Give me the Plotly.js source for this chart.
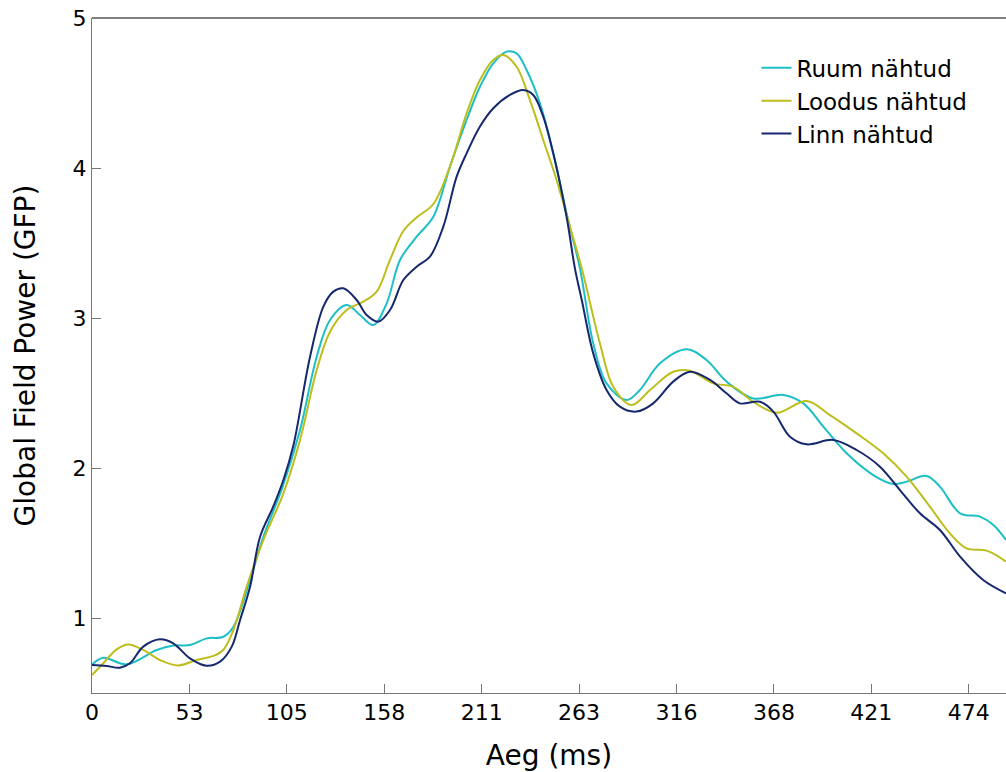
<!DOCTYPE html>
<html>
<head>
<meta charset="utf-8">
<script src="https://cdn.plot.ly/plotly-3.0.1.min.js"></script>
<style>html,body{margin:0;padding:0;background:#fff;}#chart{width:1006px;height:772px;}</style>
</head>
<body>
<div id="chart"></div>
<script>
// Time (ms) and GFP values
const ruumT = [0, 6.1, 18.7, 35, 44, 53, 62, 71, 76.4, 85.4, 92.6, 103, 112.4, 121.4, 128.6, 137.6, 144.8, 152, 159.2, 166.4, 175.4, 184.4, 193.4, 202.4, 209.6, 216.8, 224, 229.4, 234.8, 242, 249.2, 256.4, 263.6, 270.8, 278, 288.8, 296, 306.9, 321.3, 332, 342.8, 357.2, 373.5, 384.3, 395.1, 407.7, 422.1, 432.9, 440.1, 450.9, 458.1, 469, 479.8, 487, 493.8];
const ruumY = [0.69, 0.735, 0.691, 0.787, 0.816, 0.82, 0.864, 0.875, 0.942, 1.253, 1.542, 1.875, 2.253, 2.742, 2.987, 3.087, 3.02, 2.953, 3.098, 3.387, 3.542, 3.675, 4.009, 4.32, 4.542, 4.698, 4.776, 4.764, 4.653, 4.431, 4.098, 3.698, 3.331, 2.831, 2.564, 2.453, 2.52, 2.698, 2.791, 2.72, 2.576, 2.464, 2.487, 2.431, 2.276, 2.098, 1.953, 1.893, 1.909, 1.947, 1.876, 1.698, 1.676, 1.62, 1.52];

const loodusT = [0, 6.1, 13.3, 19.6, 27.7, 36.7, 46.6, 56.5, 65.5, 70.9, 76.4, 83.6, 92.6, 103.4, 112.4, 121.4, 128.6, 137.6, 146.6, 153.8, 161, 168.2, 175.4, 184.4, 193.4, 202.4, 209.6, 216.8, 222.2, 229.4, 236.6, 243.8, 251, 258.2, 264.6, 274.4, 281.6, 291.5, 301.5, 314, 323, 335.6, 346.4, 357.2, 369.9, 386.1, 398.7, 413.1, 427.5, 440.1, 452.7, 463.5, 472.5, 483.4, 493.8];
const loodusY = [0.62, 0.698, 0.791, 0.824, 0.787, 0.72, 0.684, 0.72, 0.747, 0.787, 0.92, 1.209, 1.52, 1.831, 2.187, 2.653, 2.909, 3.053, 3.109, 3.176, 3.387, 3.58, 3.67, 3.76, 4.009, 4.364, 4.587, 4.72, 4.753, 4.675, 4.453, 4.187, 3.92, 3.609, 3.331, 2.831, 2.542, 2.42, 2.52, 2.642, 2.649, 2.564, 2.542, 2.442, 2.369, 2.447, 2.353, 2.231, 2.098, 1.942, 1.742, 1.564, 1.464, 1.449, 1.376];

const linnT = [0, 7.9, 15.1, 20.5, 27.7, 36.7, 43.9, 52.9, 61.9, 69.2, 75.5, 80, 85.4, 90.8, 97.9, 103.4, 108.8, 117.8, 125, 130.4, 135.8, 143, 148.4, 154.7, 161, 168.2, 175.4, 182.6, 189.8, 197, 202.4, 209.6, 216.8, 225.8, 233, 238.4, 243.8, 249.2, 256.4, 260.9, 264.6, 270.8, 278, 285.2, 294.2, 303.2, 314, 323, 333.9, 342.8, 350, 360.9, 368.1, 377.1, 386.1, 400.5, 413.1, 425.7, 436.5, 447.3, 458.1, 469, 481.5, 493.8];
const linnY = [0.687, 0.68, 0.669, 0.698, 0.809, 0.858, 0.831, 0.731, 0.682, 0.709, 0.809, 0.987, 1.209, 1.542, 1.742, 1.92, 2.15, 2.742, 3.076, 3.176, 3.198, 3.12, 3.02, 2.976, 3.053, 3.253, 3.342, 3.409, 3.609, 3.942, 4.098, 4.276, 4.398, 4.487, 4.52, 4.487, 4.342, 4.098, 3.675, 3.331, 3.12, 2.764, 2.52, 2.409, 2.376, 2.431, 2.576, 2.642, 2.587, 2.498, 2.431, 2.442, 2.376, 2.209, 2.158, 2.187, 2.12, 2.009, 1.853, 1.698, 1.587, 1.409, 1.253, 1.164];

const tickVals = [0, 52.63, 105.26, 157.89, 210.53, 263.16, 315.79, 368.42, 421.05, 473.68];
const tickText = ['0', '53', '105', '158', '211', '263', '316', '368', '421', '474'];
const seriesNames = ['Ruum nähtud', 'Loodus nähtud', 'Linn nähtud'];
const seriesColors = ['#1dbfc6', '#bdbd1c', '#16286e'];

const xs = [ruumT, loodusT, linnT];
const ys = [ruumY, loodusY, linnY];
const traces = xs.map((x, i) => ({
  x: x, y: ys[i], type: 'scatter', mode: 'lines', name: seriesNames[i],
  line: {color: seriesColors[i], width: 2, shape: 'spline', smoothing: 1}
}));

const fam = 'DejaVu Sans, sans-serif';
const font = {family: fam, size: 22, color: '#000'};
const layout = {
  width: 1006, height: 772,
  margin: {l: 92, r: 0, t: 18, b: 79},
  paper_bgcolor: '#fff', plot_bgcolor: '#fff',
  font: font,
  showlegend: true,
  legend: {x: 0.727, y: 0.958, xanchor: 'left', yanchor: 'top', bgcolor: 'rgba(0,0,0,0)', borderwidth: 0, font: {family: fam, size: 23, color: '#000'}, tracegroupgap: 0},
  xaxis: {
    range: [0, 493.8], tickvals: tickVals, ticktext: tickText,
    ticks: 'inside', ticklen: 9, tickcolor: '#777', tickwidth: 1,
    showline: true, linecolor: '#777', linewidth: 1, showgrid: false, zeroline: false,
    title: {text: 'Aeg (ms)', font: {family: fam, size: 28, color: '#000'}, standoff: 21},
    tickfont: font
  },
  yaxis: {
    range: [0.5, 5], tickvals: [1, 2, 3, 4, 5], ticktext: ['1', '2', '3', '4', '5'],
    ticks: 'inside', ticklen: 9, tickcolor: '#777', tickwidth: 1,
    showline: true, linecolor: '#777', linewidth: 1, showgrid: false, zeroline: false,
    title: {text: 'Global Field Power (GFP)', font: {family: fam, size: 28, color: '#000'}, standoff: 28},
    tickfont: font
  },
  shapes: [{type: 'line', xref: 'paper', yref: 'paper', x0: 0, x1: 1, y0: 1, y1: 1, line: {color: '#000', width: 1}}]
};
Plotly.newPlot('chart', traces, layout, {displayModeBar: false, staticPlot: true});
</script>
</body>
</html>
